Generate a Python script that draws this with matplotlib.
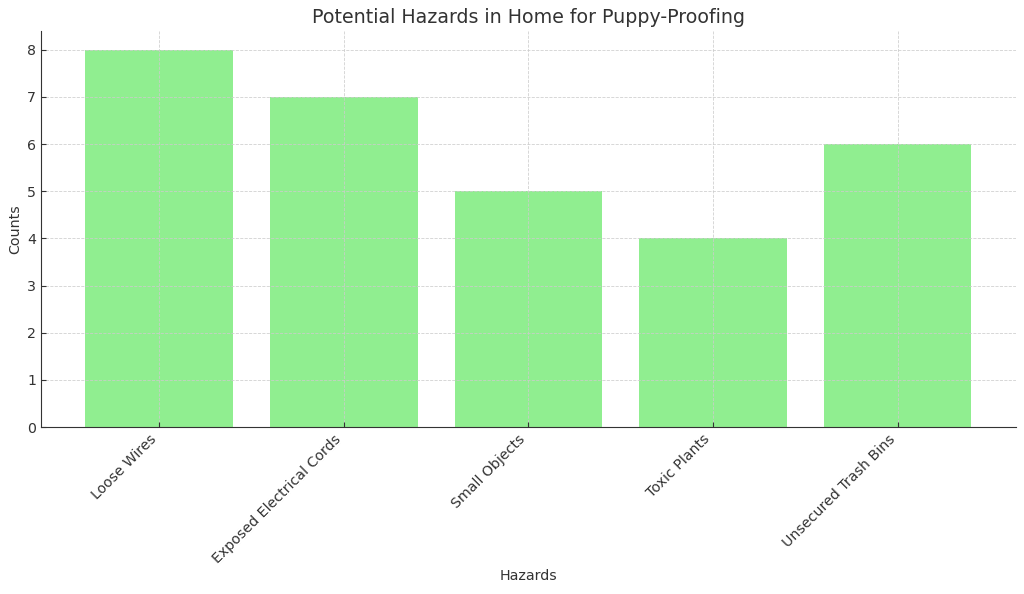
import matplotlib
matplotlib.use("Agg")
import matplotlib.pyplot as plt

hazards = ['Loose Wires', 'Exposed Electrical Cords', 'Small Objects', 'Toxic Plants', 'Unsecured Trash Bins']
counts = [8, 7, 5, 4, 6]

text_color = '#333333'
plt.rcParams['text.color'] = text_color
plt.rcParams['axes.labelcolor'] = text_color
plt.rcParams['xtick.color'] = text_color
plt.rcParams['ytick.color'] = text_color

fig, ax = plt.subplots(figsize=(10.24, 5.94), dpi=100)
fig.subplots_adjust(left=0.04, right=0.992, top=0.948, bottom=0.281)

ax.bar(hazards, counts, color='lightgreen', width=0.8)
ax.set_title('Potential Hazards in Home for Puppy-Proofing', fontsize=13.7)
ax.set_xlabel('Hazards', fontsize=10.3, labelpad=2.5)
ax.set_ylabel('Counts', fontsize=10.3, labelpad=3.5)
plt.xticks(rotation=45, ha='right', fontsize=10.2)
plt.yticks(fontsize=10.2)
ax.tick_params(direction='in', length=3.5)

ax.grid(True, linestyle='--', linewidth=0.6, color='#cccccc', alpha=0.9)
for s in ['top', 'right']:
    ax.spines[s].set_visible(False)
for s in ['left', 'bottom']:
    ax.spines[s].set_color(text_color)

fig.savefig('out.png', dpi=100)
